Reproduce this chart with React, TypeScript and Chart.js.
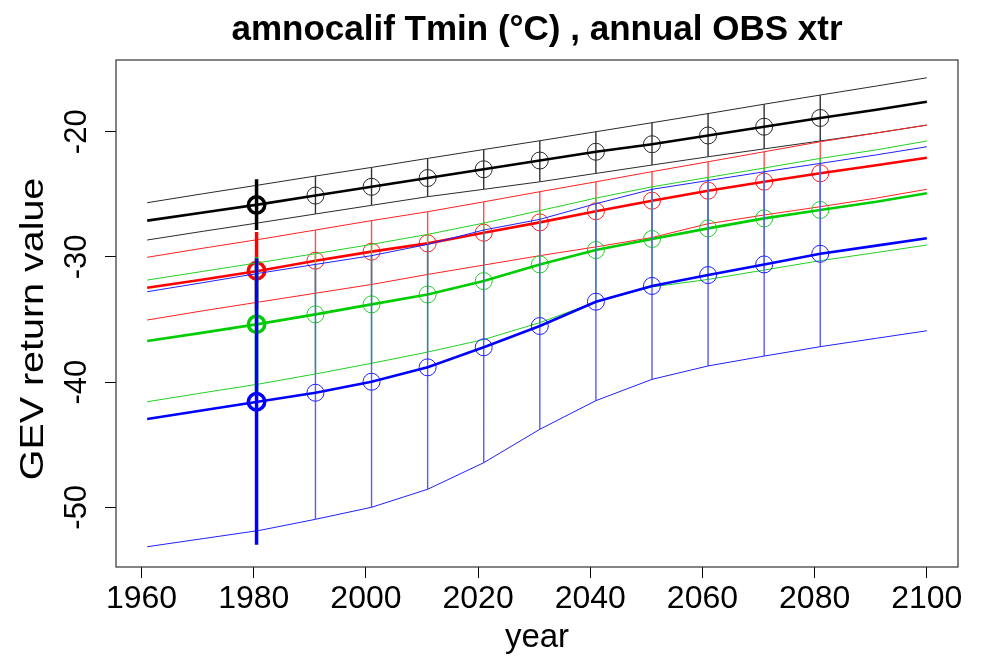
import React, { useEffect, useRef } from "react";
import { Chart, registerables } from "chart.js";

Chart.register(...registerables);

// ---------- data ----------
const lineYears = [1961, 1971, 1981, 1991, 2001, 2011, 2021, 2031, 2041, 2051, 2061, 2071, 2081, 2091, 2100];
const markerYears = [1991, 2001, 2011, 2021, 2031, 2041, 2051, 2061, 2071, 2081];
const obsYear = 1980.5;
const xTickValues = [1960, 1980, 2000, 2020, 2040, 2060, 2080, 2100];
const yTickValues = [-50, -40, -30, -20];

const blackCentral = [-27.1, -26.45, -25.8, -25.1, -24.4, -23.7, -23.0, -22.3, -21.6, -21.0, -20.3, -19.6, -18.9, -18.25, -17.6];
const blackUpper = [-25.67, -24.95, -24.25, -23.54, -22.85, -22.13, -21.42, -20.72, -20.0, -19.28, -18.55, -17.8, -17.07, -16.35, -15.69];
const blackLower = [-28.65, -27.95, -27.27, -26.57, -25.88, -25.19, -24.6, -24.0, -23.33, -22.66, -22.0, -21.37, -20.74, -20.1, -19.47];

const redCentral = [-32.46, -31.8, -31.1, -30.3, -29.58, -28.92, -28.07, -27.24, -26.35, -25.51, -24.71, -23.99, -23.32, -22.68, -22.08];
const redUpper = [-30.03, -29.3, -28.6, -27.85, -27.1, -26.39, -25.6, -24.79, -24.0, -23.19, -22.4, -21.6, -20.8, -20.1, -19.47];
const redLower = [-35.04, -34.3, -33.6, -32.9, -32.2, -31.4, -30.65, -29.9, -29.2, -28.45, -27.35, -26.65, -25.99, -25.3, -24.6];

const greenCentral = [-36.72, -36.05, -35.35, -34.59, -33.79, -33.0, -31.93, -30.6, -29.45, -28.57, -27.72, -26.92, -26.25, -25.6, -24.92];
const greenUpper = [-31.85, -31.15, -30.45, -29.74, -29.0, -28.2, -27.3, -26.3, -25.3, -24.4, -23.65, -22.9, -22.13, -21.45, -20.74];
const greenLower = [-41.57, -40.85, -40.15, -39.35, -38.5, -37.6, -36.6, -35.25, -33.6, -32.4, -31.8, -31.05, -30.3, -29.65, -29.05];

const blueCentral = [-42.95, -42.25, -41.55, -40.85, -39.97, -38.82, -37.22, -35.52, -33.58, -32.32, -31.45, -30.6, -29.75, -29.1, -28.51];
const blueUpper = [-32.78, -32.05, -31.3, -30.6, -29.9, -29.0, -27.85, -27.0, -25.75, -24.6, -23.9, -23.2, -22.53, -21.85, -21.2];
const blueLower = [-53.15, -52.5, -51.85, -50.96, -50.0, -48.56, -46.44, -43.77, -41.48, -39.78, -38.71, -37.92, -37.17, -36.5, -35.9];

// observed-period estimate (black, red, green, blue)
const obsCentral = [-25.85, -31.1, -35.38, -41.57];
const obsUpper = [-23.8, -28.0, -30.0, -30.1];
const obsLower = [-27.85, -34.2, -40.8, -53.0];

const titleText = "amnocalif Tmin (°C) , annual OBS xtr";
const xTitle = "year";
const yTitle = "GEV return value";

const FONT = "'Liberation Sans', Arial, Helvetica, sans-serif";

export default function App() {
  const ref = useRef<HTMLCanvasElement | null>(null);

  useEffect(() => {
    document.body.style.margin = "0";
    const canvas = ref.current;
    if (!canvas) return;

    const groups = [
      { color: "#000000", thin: "#2a2a2a", bar: "#333333", central: blackCentral, upper: blackUpper, lower: blackLower, order: 40 },
      { color: "#ff0000", thin: "#ff2020", bar: "#ff4d4d", central: redCentral, upper: redUpper, lower: redLower, order: 30 },
      { color: "#00cd00", thin: "#22d022", bar: "#33d433", central: greenCentral, upper: greenUpper, lower: greenLower, order: 20 },
      { color: "#0000ff", thin: "#2020ff", bar: "#5a5aff", central: blueCentral, upper: blueUpper, lower: blueLower, order: 10 },
    ];

    const pts = (vals: number[]) => lineYears.map((x, i) => ({ x, y: vals[i] }));

    const datasets: any[] = [];
    groups.forEach((g, gi) => {
      const base = { pointRadius: 0, pointHoverRadius: 0, fill: false, spanGaps: false, tension: 0 };
      const bars: any[] = [];
      markerYears.forEach((yr) => {
        const i = lineYears.indexOf(yr);
        bars.push({ x: yr, y: g.upper[i] }, { x: yr, y: g.lower[i] }, { x: yr, y: null });
      });
      datasets.push({ ...base, data: bars, borderColor: g.bar, borderWidth: 1.4, order: g.order + 5 });
      datasets.push({ ...base, data: pts(g.upper), borderColor: g.thin, borderWidth: 1, order: g.order + 4 });
      datasets.push({ ...base, data: pts(g.lower), borderColor: g.thin, borderWidth: 1, order: g.order + 4 });
      datasets.push({
        ...base,
        data: [{ x: obsYear, y: obsUpper[gi] }, { x: obsYear, y: obsLower[gi] }],
        borderColor: g.color,
        borderWidth: 3.5,
        order: g.order + 1,
      });
      datasets.push({ ...base, data: pts(g.central), borderColor: g.color, borderWidth: 2.6, order: g.order + 2 });
      datasets.push({
        data: markerYears.map((yr) => ({ x: yr, y: g.central[lineYears.indexOf(yr)] })),
        showLine: false,
        pointRadius: 8.5,
        pointHoverRadius: 8.5,
        pointBorderWidth: 1,
        pointBorderColor: g.thin,
        pointBackgroundColor: "rgba(0,0,0,0)",
        order: g.order + 3,
      });
      datasets.push({
        data: [{ x: obsYear, y: obsCentral[gi] }],
        showLine: false,
        pointRadius: 8.2,
        pointHoverRadius: 8.2,
        pointBorderWidth: 3.5,
        pointBorderColor: g.color,
        pointBackgroundColor: "rgba(0,0,0,0)",
        order: g.order,
      });
    });

    const decorPlugin = {
      id: "decor",
      afterDraw(chart: any) {
        const { ctx, chartArea } = chart;
        const yScale = chart.scales.y;
        ctx.save();
        ctx.strokeStyle = "#333";
        ctx.lineWidth = 1.2;
        ctx.strokeRect(chartArea.left, chartArea.top, chartArea.right - chartArea.left, chartArea.bottom - chartArea.top);

        ctx.fillStyle = "#000";
        ctx.textAlign = "center";
        ctx.textBaseline = "middle";
        // y tick labels, rotated
        ctx.font = `31px ${FONT}`;
        yScale.ticks.forEach((t: any) => {
          const py = yScale.getPixelForValue(t.value);
          ctx.save();
          ctx.translate(77, py);
          ctx.rotate(-Math.PI / 2);
          ctx.fillText(String(t.value), 0, 0);
          ctx.restore();
        });
        // y title
        ctx.font = `34px ${FONT}`;
        ctx.save();
        ctx.translate(34, 329);
        ctx.rotate(-Math.PI / 2);
        ctx.scale(1.16, 1);
        ctx.fillText(yTitle, 0, 0);
        ctx.restore();
        // x title
        ctx.font = `33px ${FONT}`;
        ctx.fillText(xTitle, (chartArea.left + chartArea.right) / 2, 638);
        // main title
        ctx.font = `bold 35px ${FONT}`;
        ctx.fillText(titleText, (chartArea.left + chartArea.right) / 2, 30);
        ctx.restore();
      },
    };

    const chart = new Chart(canvas, {
      type: "line",
      data: { datasets },
      plugins: [decorPlugin],
      options: {
        responsive: false,
        animation: false,
        events: [],
        layout: { padding: { top: 60, right: 25, left: 0, bottom: 0 } },
        plugins: { legend: { display: false }, tooltip: { enabled: false }, title: { display: false } },
        scales: {
          x: {
            type: "linear",
            min: 1955.44,
            max: 2105.56,
            afterBuildTicks: (s: any) => {
              s.ticks = xTickValues.map((v) => ({ value: v }));
            },
            afterFit: (s: any) => {
              s.height = 97;
            },
            border: { display: false },
            grid: { display: true, drawOnChartArea: false, drawTicks: true, tickLength: 11, color: "#000", lineWidth: 1 },
            ticks: {
              color: "#000",
              font: { size: 32, family: FONT },
              padding: 2,
              maxRotation: 0,
              minRotation: 0,
              autoSkip: false,
              callback: (v: any) => String(v),
            },
          },
          y: {
            type: "linear",
            min: -54.77,
            max: -14.27,
            afterBuildTicks: (s: any) => {
              s.ticks = yTickValues.map((v) => ({ value: v }));
            },
            afterFit: (s: any) => {
              s.width = 116;
            },
            border: { display: false },
            grid: { display: true, drawOnChartArea: false, drawTicks: true, tickLength: 11, color: "#000", lineWidth: 1 },
            ticks: { display: false },
          },
        },
      },
    } as any);

    return () => chart.destroy();
  }, []);

  return (
    <div style={{ width: 983, height: 664 }}>
      <canvas ref={ref} width={983} height={664} style={{ display: "block" }} />
    </div>
  );
}
